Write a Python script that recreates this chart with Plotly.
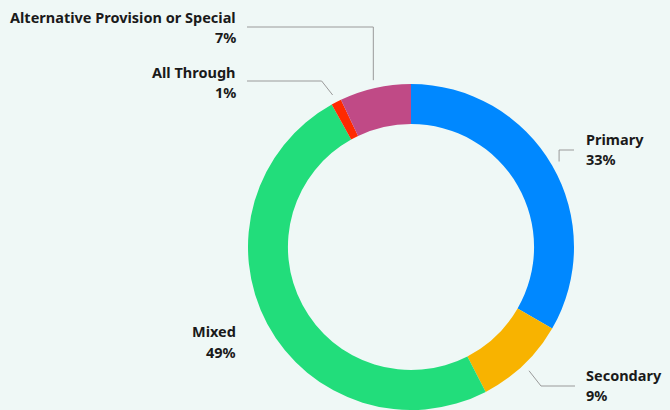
import math
import plotly.graph_objects as go

# School phase breakdown
categories = ["Primary", "Secondary", "Mixed", "All Through", "Alternative Provision or Special"]
shares = [33, 9, 49, 1, 7]
colors = ["#0088FF", "#F8B300", "#22DD7B", "#FF2A00", "#C04A86"]

W, H = 670, 410
BG = "#EFF8F6"
CX, CY, R = 411, 247, 163          # ring centre and outer radius in pixels
HOLE = 0.755
FONT = "Noto Sans"


def px(x):
    return x / W


def py(y):
    return 1 - y / H


fig = go.Figure(
    go.Pie(
        labels=categories,
        values=shares,
        hole=HOLE,
        sort=False,
        direction="clockwise",
        rotation=0,
        marker=dict(colors=colors, line=dict(width=0)),
        textinfo="none",
        hoverinfo="label+percent",
        showlegend=False,
        domain=dict(x=[px(CX - R), px(CX + R)], y=[py(CY + R), py(CY - R)]),
    )
)

# label placement: side, text edge x, name/percent centre y, connector row y, elbow offset
label_layout = {
    "Primary": dict(side="left", x=584, y1=139, y2=159, line_y=150, edge=574, elbow=0),
    "Secondary": dict(side="left", x=584, y1=375, y2=395, line_y=386, edge=575, elbow=12),
    "Mixed": dict(side="right", x=238, y1=331, y2=352, line_y=None, edge=None, elbow=0),
    "All Through": dict(side="right", x=238, y1=72, y2=92, line_y=81, edge=247, elbow=-11),
    "Alternative Provision or Special": dict(side="right", x=238, y1=17, y2=37, line_y=27, edge=247, elbow=0),
}

total = sum(shares)
cum = 0
shapes = []
annotations = []
for name, val in zip(categories, shares):
    mid = (cum + val / 2) / total * 2 * math.pi
    cum += val
    spec = label_layout[name]
    anchor = "left" if spec["side"] == "left" else "right"
    for txt, yy in ((name, spec["y1"]), (f"{val}%", spec["y2"])):
        annotations.append(
            dict(
                x=px(spec["x"]), y=py(yy), xref="paper", yref="paper",
                text=txt, showarrow=False, xanchor=anchor, yanchor="middle",
                align=anchor,
                font=dict(family=FONT, size=14.5, color="#1A1A1A", weight="bold"),
            )
        )
    if spec["line_y"] is None:
        continue
    # connector starts just outside the ring on the slice's mid-angle
    ex = CX + (R + 8) * math.sin(mid)
    ey = CY - (R + 8) * math.cos(mid)
    kx = ex + spec["elbow"]
    ly = spec["line_y"]
    path = (
        f"M {px(ex)} {py(ey)} L {px(kx)} {py(ly)} L {px(spec['edge'])} {py(ly)}"
    )
    shapes.append(
        dict(type="path", path=path, xref="paper", yref="paper",
             line=dict(color="#9A9A9A", width=1))
    )

fig.update_layout(
    width=W,
    height=H,
    margin=dict(l=0, r=0, t=0, b=0),
    paper_bgcolor=BG,
    plot_bgcolor=BG,
    shapes=shapes,
    annotations=annotations,
)

fig.write_html("out.html")
